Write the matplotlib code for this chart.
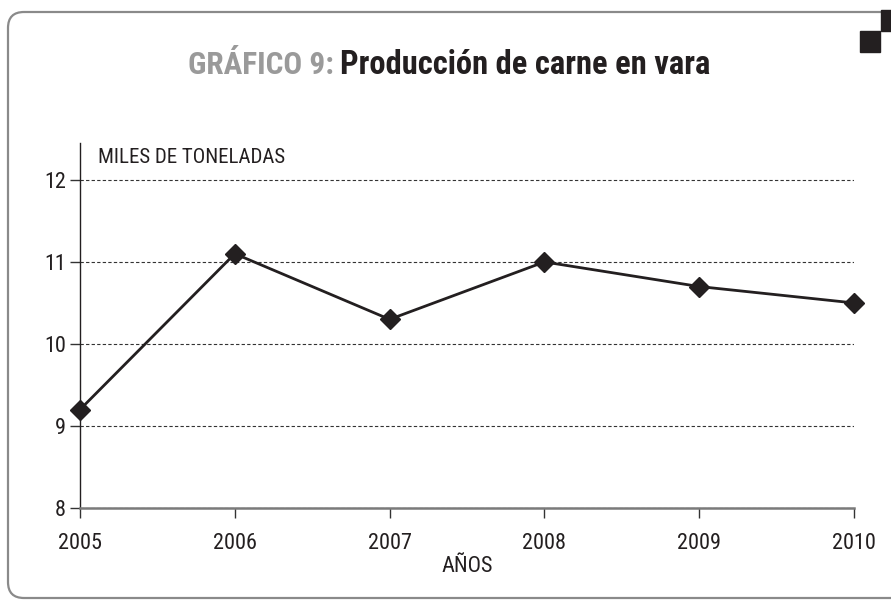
import matplotlib
matplotlib.use("Agg")
import matplotlib.pyplot as plt
from matplotlib.patches import FancyBboxPatch, Rectangle

years = [2005, 2006, 2007, 2008, 2009, 2010]
tonnes = [9.2, 11.1, 10.3, 11.0, 10.7, 10.5]
yticks = [8, 9, 10, 11, 12]

cond = ["Roboto Condensed", "Liberation Sans", "DejaVu Sans"]
plt.rcParams["font.family"] = cond

fig = plt.figure(figsize=(8.91, 6.03), dpi=100)

# frame drawn in pixel coordinates
bg = fig.add_axes([0, 0, 1, 1], zorder=-1)
bg.set_xlim(0, 891)
bg.set_ylim(603, 0)
bg.axis("off")
bg.add_patch(FancyBboxPatch((8, 12), 920, 586, boxstyle="round,pad=0,rounding_size=16",
                            fill=False, edgecolor="#8a8a8a", lw=1.6))
bg.add_patch(Rectangle((881, 10), 12, 21, color="#231f20"))
bg.add_patch(Rectangle((860, 31), 20, 21, color="#231f20"))

fig.text(334 / 891, 1 - 65 / 603, "GRÁFICO 9:", ha="right", va="center",
         fontsize=22.5, fontweight="bold", color="#9a9a9a")
fig.text(340 / 891, 1 - 65 / 603, "Producción de carne en vara", ha="left", va="center",
         fontsize=23.5, fontweight="bold", color="#231f20")

ax = fig.add_axes([80 / 891, 1 - 508 / 603, 774 / 891, 365 / 603])
ax.plot(years, tonnes, color="#231f20", lw=2, marker="D", markersize=10, zorder=3,
        clip_on=False)
ax.set_xlim(2005, 2010)
ax.set_ylim(8, 12.45)
ax.set_yticks(yticks)
ax.set_xticks(years)
ax.grid(axis="y", linestyle=(0, (3, 2)), color="#333333", lw=0.8)
for s in ["top", "right"]:
    ax.spines[s].set_visible(False)
ax.spines["left"].set_color("#231f20")
ax.spines["left"].set_linewidth(1.0)
ax.spines["bottom"].set_color("#7a7a7a")
ax.spines["bottom"].set_linewidth(1.8)
ax.tick_params(axis="both", direction="out", length=7, width=1, color="#333333",
               labelsize=16, labelcolor="#231f20")
ax.tick_params(axis="x", pad=11)
ax.tick_params(axis="y", pad=3)

fig.text(98 / 891, 1 - 158 / 603, "MILES DE TONELADAS", ha="left", va="center",
         fontsize=15, color="#231f20")
fig.text(467 / 891, 1 - 567 / 603, "AÑOS", ha="center", va="center",
         fontsize=16, color="#231f20")

fig.savefig("out.png", dpi=100)
